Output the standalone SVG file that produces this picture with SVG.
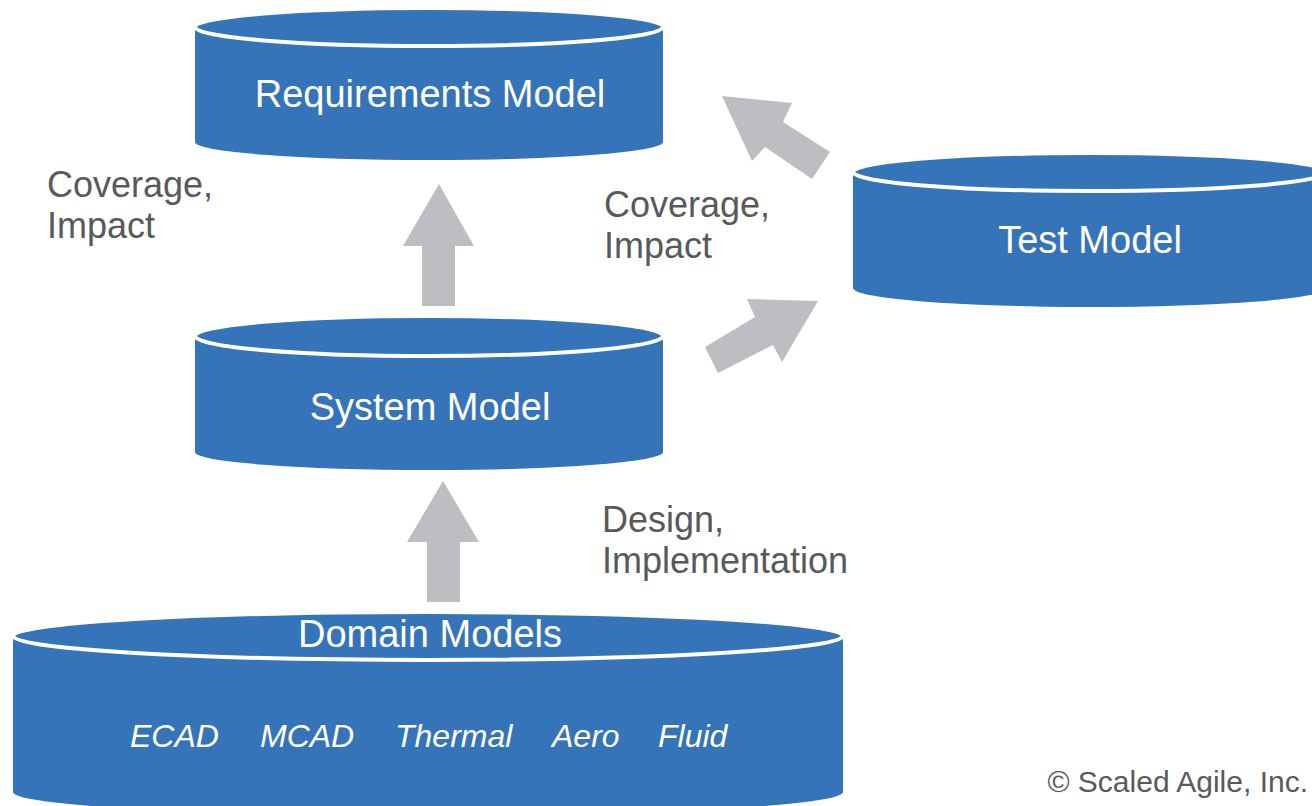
<svg xmlns="http://www.w3.org/2000/svg" width="1312" height="806" viewBox="0 0 1312 806">
<style>
.body{fill:#3674B9;}
.top{fill:#3674B9;stroke:#FFFFFF;stroke-width:4;}
.ntext{font-family:"Liberation Sans",Arial,sans-serif;font-size:38px;fill:#FFFFFF;text-anchor:middle;}
.itext{font-family:"Liberation Sans",Arial,sans-serif;font-size:32px;font-style:italic;fill:#FFFFFF;}
.label{font-family:"Liberation Sans",Arial,sans-serif;font-size:36px;fill:#58595B;}
.arrow{fill:#BDBEC1;}
.copy{font-family:"Liberation Sans",Arial,sans-serif;font-size:30px;fill:#58595B;text-anchor:end;}
</style>
<rect width="1312" height="806" fill="#FFFFFF"/>
<g id="connectors">
<polygon class="arrow" points="439,184 474,246 455,246 455,306 422,306 422,246 403,246"/>
<polygon class="arrow" points="443,481 479,542 460,542 460,602 427,602 427,542 407,542"/>
<polygon class="arrow" points="722,96 792,103 783,122 830,152 812,179 765,147 752,161"/>
<polygon class="arrow" points="818,301 782,362 773,345 718,373 705,347 755,317 747,299"/>
</g>
<g id="requirements-model">
<path class="body" d="M195,27 A234,19 0 0 1 663,27 V142 A234,18 0 0 1 195,142 Z"/>
<ellipse class="top" cx="429" cy="27" rx="234" ry="19"/>
<text class="ntext" x="430" y="107">Requirements Model</text>
</g>
<g id="test-model">
<path class="body" d="M853,172 A237,19 0 0 1 1327,172 V288 A237,19 0 0 1 853,288 Z"/>
<ellipse class="top" cx="1090" cy="172" rx="237" ry="19"/>
<text class="ntext" x="1090" y="253">Test Model</text>
</g>
<g id="system-model">
<path class="body" d="M195,336 A234,20 0 0 1 663,336 V452 A234,18 0 0 1 195,452 Z"/>
<ellipse class="top" cx="429" cy="336" rx="234" ry="20"/>
<text class="ntext" x="430" y="420">System Model</text>
</g>
<g id="domain-models">
<path class="body" d="M13,636 A415,24 0 0 1 843,636 V792 A415,24 0 0 1 13,792 Z"/>
<ellipse class="top" cx="428" cy="636" rx="415" ry="24"/>
<text class="ntext" x="430" y="647">Domain Models</text>
<text class="itext" x="130" y="747">ECAD</text>
<text class="itext" x="260" y="747">MCAD</text>
<text class="itext" x="395" y="747">Thermal</text>
<text class="itext" x="552" y="747">Aero</text>
<text class="itext" x="658" y="747">Fluid</text>
</g>
<g id="labels">
<text class="label" x="47" y="197">Coverage,</text>
<text class="label" x="47" y="238">Impact</text>
<text class="label" x="604" y="217">Coverage,</text>
<text class="label" x="604" y="258">Impact</text>
<text class="label" x="602" y="532">Design,</text>
<text class="label" x="602" y="573">Implementation</text>
<text class="copy" x="1308" y="792">© Scaled Agile, Inc.</text>
</g>
</svg>
